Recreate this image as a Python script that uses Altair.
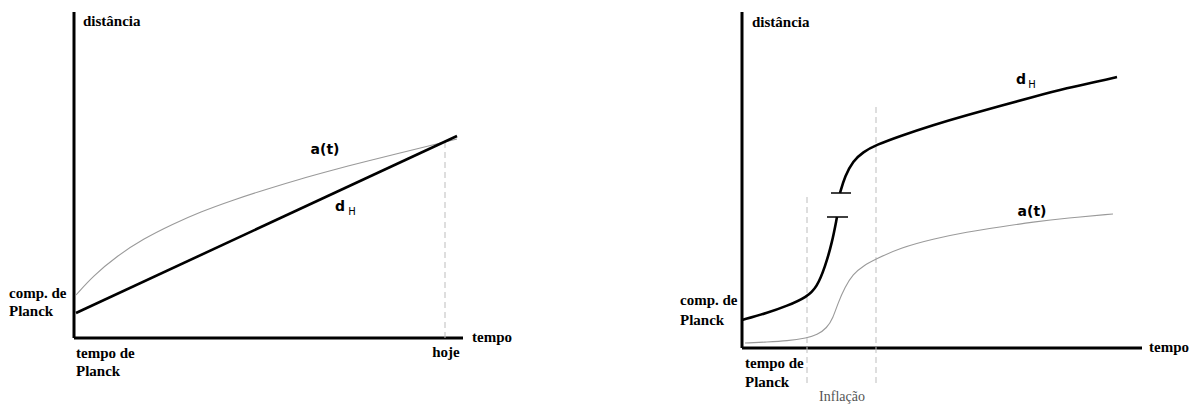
import altair as alt
import pandas as pd

# ---------------- LEFT PANEL (time t, distance d) ----------------
L_dh_t = [2, 383]
L_dh_d = [25, 202]
L_a_t = [2, 19, 43, 69, 99, 126, 159, 193, 226, 259, 293, 326, 359, 383]
L_a_d = [43, 62, 82, 99, 114, 126, 138, 149, 159, 168, 177, 185, 193, 199]
L_today_t = 371
L_today_top = 197
L_axis_top = 326
L_axis_right = 389

# ---------------- RIGHT PANEL ----------------
R_dh1_t = [0, 25, 45, 65, 75, 83, 90, 95]
R_dh1_d = [28, 35, 42, 51, 61, 81, 105, 131]
R_dh2_t = [98, 103, 111, 121, 134, 158, 191, 225, 258, 291, 325, 358, 375]
R_dh2_d = [155, 172, 187, 196, 203, 212, 223, 233, 242, 251, 260, 267, 271]
R_a_t = [3, 25, 45, 65, 75, 85, 91, 96, 103, 111, 121, 134, 158, 191, 225, 258, 291, 325, 371]
R_a_d = [5, 6, 7, 10, 13, 20, 30, 45, 61, 74, 82, 89, 100, 109, 116, 121, 126, 130, 134]
R_break_t = [85, 89]
R_break_t2 = [106, 109]
R_break_d = [131, 155]
R_infl_t = [65, 134]
R_infl_top = [151, 245]
R_infl_bottom = -35
R_axis_top = 336
R_axis_right = 400

SERIF = "Liberation Serif, Times New Roman, serif"


def build_panel(width, height, xdom, ydom, lines, axes, dashed, ticks,
                serif_left, serif_center, infl, sans, subs):
    xs = alt.Scale(domain=xdom, nice=False, zero=False)
    ys = alt.Scale(domain=ydom, nice=False, zero=False)
    X = alt.X("t:Q", scale=xs, axis=None)
    Y = alt.Y("d:Q", scale=ys, axis=None)
    layers = []
    layers.append(alt.Chart(axes).mark_rule(color="black", strokeWidth=3).encode(
        x=X, y=Y, x2="t2:Q", y2="d2:Q"))
    layers.append(alt.Chart(dashed).mark_rule(color="#bdbdbd", strokeWidth=1, strokeDash=[6, 4]).encode(
        x=X, y=Y, y2="d2:Q"))
    a_df = lines[lines["s"] == "a"]
    layers.append(alt.Chart(a_df).mark_line(color="#9a9a9a", strokeWidth=1.1, interpolate="basis").encode(
        x=X, y=Y, detail="seg:N", order="i:Q"))
    dh_df = lines[lines["s"] == "dh"]
    layers.append(alt.Chart(dh_df).mark_line(color="black", strokeWidth=2.6, interpolate="basis").encode(
        x=X, y=Y, detail="seg:N", order="i:Q"))
    if ticks is not None:
        layers.append(alt.Chart(ticks).mark_rule(color="black", strokeWidth=1.5).encode(
            x=X, y=Y, x2="t2:Q"))
    layers.append(alt.Chart(serif_left).mark_text(
        align="left", baseline="middle", font=SERIF, fontWeight="bold",
        fontSize=15, color="black").encode(x=X, y=Y, text="label:N"))
    if serif_center is not None:
        layers.append(alt.Chart(serif_center).mark_text(
            align="center", baseline="middle", font=SERIF, fontWeight="bold",
            fontSize=15, color="black").encode(x=X, y=Y, text="label:N"))
    if infl is not None:
        layers.append(alt.Chart(infl).mark_text(
            align="center", baseline="middle", font=SERIF,
            fontSize=14, color="#555555").encode(x=X, y=Y, text="label:N"))
    layers.append(alt.Chart(sans).mark_text(
        align="center", baseline="middle", font="DejaVu Sans", fontWeight="bold",
        fontSize=14, color="black").encode(x=X, y=Y, text="label:N"))
    layers.append(alt.Chart(subs).mark_text(
        align="center", baseline="middle", font="DejaVu Sans",
        fontSize=10, color="black").encode(x=X, y=Y, text="label:N"))
    return alt.layer(*layers).properties(width=width, height=height)


def lines_df(series):
    rows = []
    for s, seg, ts, ds in series:
        for i, (t, d) in enumerate(zip(ts, ds)):
            rows.append({"s": s, "seg": seg, "i": i, "t": t, "d": d})
    return pd.DataFrame(rows)


L_lines = lines_df([("dh", "dh", L_dh_t, L_dh_d), ("a", "a", L_a_t, L_a_d)])
L_axes = pd.DataFrame({"t": [0, 0], "d": [0, 0], "t2": [0, L_axis_right], "d2": [L_axis_top, 0]})
L_dashed = pd.DataFrame({"t": [L_today_t], "d": [0], "d2": [L_today_top]})
L_serif_left = pd.DataFrame({
    "label": ["distância", "tempo", "comp. de", "Planck", "tempo de", "Planck"],
    "t": [9, 398, -65, -65, 2, 2],
    "d": [317, 1, 45, 27, -15, -33]})
L_serif_center = pd.DataFrame({"label": ["hoje"], "t": [372], "d": [-14]})
L_sans = pd.DataFrame({"label": ["a(t)", "d"], "t": [251, 266], "d": [188, 131]})
L_subs = pd.DataFrame({"label": ["H"], "t": [278], "d": [126]})

left = build_panel(522, 397, [-66, 456], [-67, 330], L_lines, L_axes, L_dashed, None,
                   L_serif_left, L_serif_center, None, L_sans, L_subs)

R_lines = lines_df([("dh", "dh1", R_dh1_t, R_dh1_d), ("dh", "dh2", R_dh2_t, R_dh2_d),
                    ("a", "a", R_a_t, R_a_d)])
R_axes = pd.DataFrame({"t": [0, 0], "d": [0, 0], "t2": [0, R_axis_right], "d2": [R_axis_top, 0]})
R_dashed = pd.DataFrame({"t": R_infl_t, "d": [R_infl_bottom] * 2, "d2": R_infl_top})
R_ticks = pd.DataFrame({"t": R_break_t, "t2": R_break_t2, "d": R_break_d})
R_serif_left = pd.DataFrame({
    "label": ["distância", "tempo", "comp. de", "Planck", "tempo de", "Planck"],
    "t": [10, 407, -62, -62, 3, 3],
    "d": [326, 1, 48, 28, -15, -34]})
R_infl = pd.DataFrame({"label": ["Inflação"], "t": [100], "d": [-49]})
R_sans = pd.DataFrame({"label": ["a(t)", "d"], "t": [290, 279], "d": [136, 268]})
R_subs = pd.DataFrame({"label": ["H"], "t": [290], "d": [263]})

right = build_panel(662, 397, [-212, 450], [-57, 340], R_lines, R_axes, R_dashed, R_ticks,
                    R_serif_left, None, R_infl, R_sans, R_subs)

chart = alt.hconcat(left, right, spacing=0, bounds="flush").properties(
    padding=0
).configure_view(stroke=None)

chart.save("out.html", embed_options={"renderer": "svg", "actions": False})
